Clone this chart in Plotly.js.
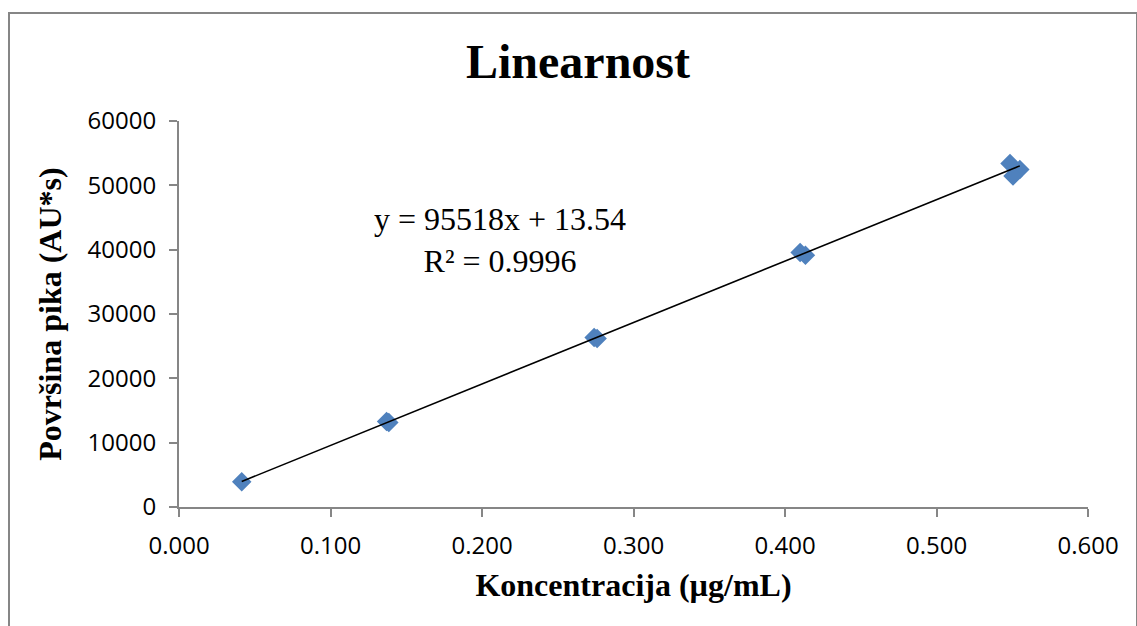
<!DOCTYPE html>
<html>
<head>
<meta charset="utf-8">
<script src="https://cdn.plot.ly/plotly-3.0.1.min.js"></script>
<style>html,body{margin:0;padding:0;background:#fff;}#chart{width:1137px;height:626px;}</style>
</head>
<body>
<div id="chart"></div>
<script>
// Data
const concentration = [0.0414, 0.1370, 0.1385, 0.2740, 0.2760, 0.4100, 0.4135, 0.5485, 0.5550, 0.5505];
const peakArea      = [3935, 13300, 13150, 26350, 26200, 39550, 39150, 53400, 52450, 51450];
const xTickValues = [0, 0.1, 0.2, 0.3, 0.4, 0.5, 0.6];
const xTickLabels = ["0.000", "0.100", "0.200", "0.300", "0.400", "0.500", "0.600"];
const yTickValues = [0, 10000, 20000, 30000, 40000, 50000, 60000];
const yTickLabels = ["0", "10000", "20000", "30000", "40000", "50000", "60000"];
const trendSlope = 95518;
const trendIntercept = 13.54;
const rSquared = "0.9996";
const chartTitle = "Linearnost";
const xTitle = "Koncentracija (µg/mL)";
const yTitle = "Površina pika (AU*s)";

const xMin = Math.min(...concentration), xMax = Math.max(...concentration);
const trendX = [xMin, xMax];
const trendY = trendX.map(v => trendSlope * v + trendIntercept);

const serif = "Liberation Serif, Times New Roman, serif";
const sans = "Open Sans, Noto Sans, sans-serif";

const traces = [
  {
    x: concentration, y: peakArea, type: "scatter", mode: "markers",
    marker: {symbol: "diamond", size: 15, color: "#4F81BD", line: {width: 0}},
    hoverinfo: "x+y", showlegend: false
  },
  {
    x: trendX, y: trendY, type: "scatter", mode: "lines",
    line: {color: "#000000", width: 1.6}, hoverinfo: "skip", showlegend: false
  }
];

const layout = {
  width: 1137, height: 626,
  paper_bgcolor: "#ffffff", plot_bgcolor: "#ffffff",
  margin: {l: 179, r: 49, t: 121, b: 119},
  showlegend: false,
  title: {
    text: "<b>" + chartTitle + "</b>",
    font: {family: serif, size: 48, color: "#000"},
    xref: "container", x: 578 / 1137, xanchor: "center",
    yref: "container", y: 1 - 61 / 626, yanchor: "middle"
  },
  xaxis: {
    range: [0, 0.6], tickvals: xTickValues, ticktext: xTickLabels,
    showgrid: false, zeroline: false, showline: true,
    linecolor: "#868686", linewidth: 2,
    ticks: "outside", ticklen: 8, tickwidth: 2, tickcolor: "#868686",
    ticklabelstandoff: 8,
    tickfont: {family: sans, size: 24, color: "#000"},
    title: {text: "<b>" + xTitle + "</b>", font: {family: serif, size: 32, color: "#000"}, standoff: 14},
    fixedrange: true
  },
  yaxis: {
    range: [0, 60000], tickvals: yTickValues, ticktext: yTickLabels,
    showgrid: false, zeroline: false, showline: true,
    linecolor: "#868686", linewidth: 2,
    ticks: "outside", ticklen: 8, tickwidth: 2, tickcolor: "#868686",
    ticklabelstandoff: 8,
    tickfont: {family: sans, size: 24, color: "#000"},
    title: {text: "<b>" + yTitle + "</b>", font: {family: serif, size: 32, color: "#000"}, standoff: 16},
    fixedrange: true
  },
  annotations: [
    {
      xref: "paper", yref: "paper",
      x: (500 - 179) / 909, y: (507 - 240) / 386,
      xanchor: "center", yanchor: "middle",
      text: "y = " + trendSlope + "x + " + trendIntercept + "<br>R² = " + rSquared,
      showarrow: false, align: "center",
      font: {family: serif, size: 32, color: "#000"}
    }
  ],
  shapes: [
    {
      type: "rect", xref: "paper", yref: "paper",
      x0: (9 - 179) / 909, x1: (1137 - 179) / 909,
      y0: (507 - 640) / 386, y1: (507 - 13) / 386,
      line: {color: "#868686", width: 2}, fillcolor: "rgba(0,0,0,0)", layer: "below"
    }
  ]
};

Plotly.newPlot("chart", traces, layout, {displayModeBar: false, staticPlot: true});
</script>
</body>
</html>
